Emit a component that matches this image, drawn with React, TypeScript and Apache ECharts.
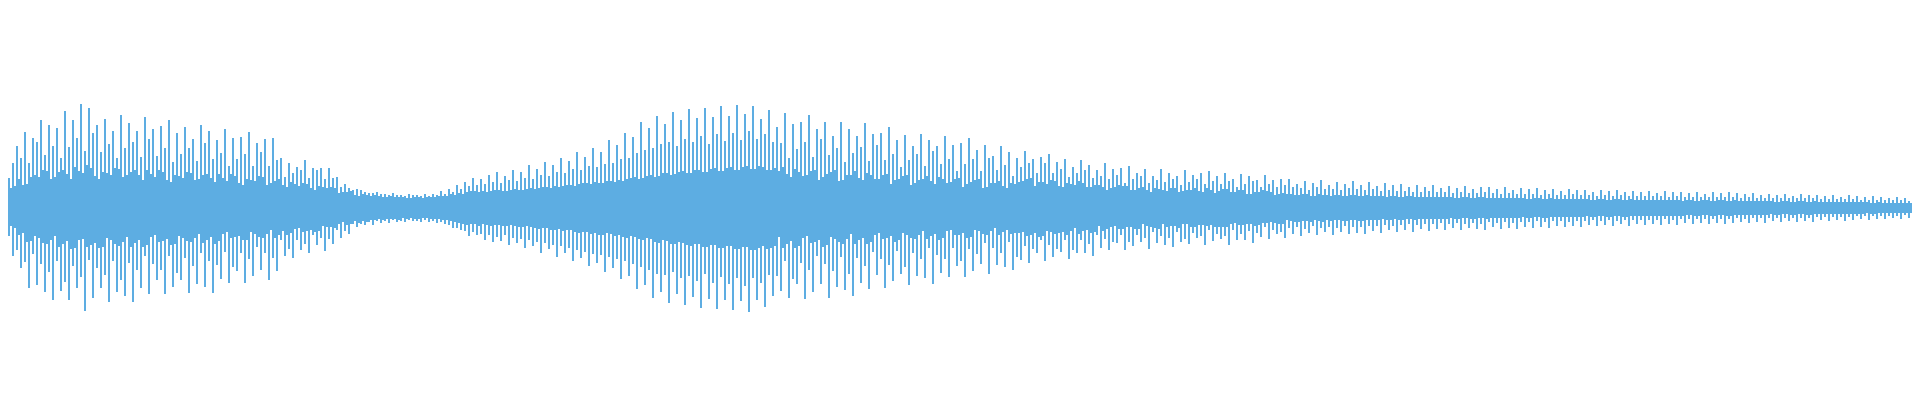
import { useEffect, useRef } from "react";
import * as echarts from "echarts";

// Waveform: per-sample maximum (upper) and minimum (lower), 960 samples
const upper = [
  30,20,45,22, 62,29,50,23, 76,24,45,31, 70,33,66,31, 88,38,53,37, 83,29,62,31, 80,36,50,38, 97,34,61,29, 88,41,70,37, 104,35,57,43,
  100,40,75,32, 83,29,56,36, 89,35,64,33, 77,40,50,39, 93,31,60,33, 85,36,66,38, 77,33,51,28, 91,38,69,34, 79,31,52,38, 82,36,60,28,
  88,26,46,33, 75,32,54,30, 81,36,60,35, 69,28,47,29, 83,33,65,34, 77,30,49,26, 68,34,55,30, 79,27,42,34, 70,32,49,25, 71,23,54,29,
  76,28,42,27, 65,32,56,31, 69,23,42,25, 70,27,48,29, 50,23,31,21, 45,26,35,24, 41,22,38,25, 48,24,30,20, 40,18,38,22, 40,21,29,20,
  40,21,30,20, 31,15,21,16, 24,16,20,17, 18,13,19,12, 18,14,16,13, 15,12,15,13, 16,12,14,11, 14,11,13,12, 15,11,13,11, 13,11,12,10,
  14,10,13,11, 13,11,12,10, 14,11,12,11, 14,11,13,12, 17,12,14,12, 19,14,16,13, 23,15,19,14, 26,16,22,17, 30,17,23,16, 29,17,24,16,
  33,17,26,18, 36,18,25,17, 32,17,28,18, 38,19,27,18, 36,18,30,19, 43,20,29,19, 39,20,33,21, 46,21,32,20, 43,22,36,21, 50,22,35,23,
  47,23,39,22, 56,24,38,25, 51,25,42,24, 60,26,41,25, 56,25,44,27, 68,27,45,26, 63,28,49,27, 75,29,50,30, 71,31,55,29, 86,30,58,32,
  80,33,60,31, 92,32,64,35, 84,35,66,33, 96,34,62,36, 88,37,69,35, 99,35,66,38, 90,38,72,36, 100,36,64,39, 91,40,74,37, 102,37,67,40,
  92,41,75,38, 103,38,68,41, 94,42,77,39, 102,39,69,42, 89,41,74,38, 98,38,66,40, 81,37,65,41, 95,34,50,31, 84,39,59,36, 86,32,66,33,
  93,37,51,38, 79,28,69,31, 86,34,53,36, 72,38,60,27, 86,28,46,33, 79,33,55,37, 72,30,61,28, 85,35,47,33, 74,29,63,29, 75,33,48,34,
  81,24,54,28, 68,29,41,32, 73,33,48,23, 62,25,54,28, 74,29,42,32, 68,27,57,24, 62,31,44,29, 72,25,49,26, 63,29,37,30, 65,21,44,24,
  70,26,49,28, 58,29,37,20, 63,21,50,25, 52,25,38,27, 62,22,43,20, 56,25,32,24, 50,26,41,27, 57,29,45,30, 49,22,35,26, 51,26,45,24,
  54,28,35,27, 46,22,39,21, 49,25,31,24, 41,23,35,27, 48,25,38,21, 43,21,30,23, 38,23,32,21, 45,18,29,20, 39,21,33,23, 40,22,25,22,
  42,18,29,18, 35,20,32,21, 39,18,25,16, 32,20,28,19, 39,18,26,17, 35,20,29,20, 32,16,23,17, 38,18,26,18, 33,20,29,17, 35,16,24,20,
  37,18,27,15, 32,17,24,19, 35,19,27,16, 29,16,21,18, 34,18,24,14, 32,14,27,16, 28,16,21,18, 33,17,24,16, 28,13,21,14, 29,15,23,14,
  29,14,21,13, 24,13,20,14, 27,14,18,12, 25,12,21,14, 28,13,19,13, 23,12,19,13, 26,13,18,12, 24,12,20,13, 27,13,19,12, 23,12,18,13,
  26,12,19,12, 22,12,17,12, 25,11,18,12, 23,12,17,11, 24,11,17,12, 21,12,16,11, 23,11,16,11, 21,11,17,11, 23,11,16,11, 20,11,16,11,
  22,11,15,10, 20,10,16,11, 22,11,15,10, 19,10,15,11, 21,11,16,10, 21,10,15,10, 19,10,14,10, 21,10,15,10, 18,10,14,10, 20,10,14,9,
  19,9,14,10, 20,10,13,9, 18,9,14,10, 19,9,13,9, 17,9,13,9, 19,9,14,9, 18,9,13,9, 18,9,13,8, 16,8,12,9, 18,9,13,8,
  17,8,12,9, 18,9,13,8, 16,8,12,9, 17,8,12,8, 16,8,12,8, 17,8,12,8, 15,8,12,8, 17,8,11,8, 16,8,12,8, 16,7,11,8,
  15,8,11,7, 16,7,11,8, 14,8,11,7, 16,7,11,8, 15,8,11,7, 16,7,11,8, 15,7,10,7, 14,7,11,7, 15,7,10,7, 13,7,10,7,
  14,7,10,6, 13,6,10,7, 14,7,10,6, 12,6,10,7, 14,7,10,6, 13,6,10,7, 13,6,9,6, 12,6,9,6, 13,6,9,6, 11,6,9,6,
  13,6,9,6, 12,6,8,6, 11,6,8,5, 12,5,8,6, 11,5,8,5, 10,5,8,5, 11,5,8,5, 10,5,7,5, 10,5,7,5, 9,5,7,5,
];

const lower = [
  -28,-18,-48,-20, -42,-27,-60,-25, -54,-34,-80,-33, -46,-28,-77,-30, -56,-35,-84,-36, -64,-32,-92,-28, -53,-39,-83,-36, -74,-33,-92,-41, -58,-40,-80,-32, -69,-31,-103,-39,
  -52,-37,-90,-35, -60,-40,-80,-39, -67,-30,-94,-32, -53,-36,-84,-38, -72,-34,-88,-29, -55,-39,-94,-35, -62,-32,-80,-39, -48,-37,-86,-29, -56,-27,-72,-34, -62,-33,-86,-31,
  -48,-37,-79,-36, -65,-28,-72,-30, -50,-33,-85,-34, -58,-30,-76,-26, -45,-35,-79,-32, -53,-29,-85,-36, -57,-33,-71,-26, -44,-24,-75,-30, -59,-29,-63,-28, -45,-32,-75,-32,
  -51,-24,-68,-26, -39,-29,-62,-30, -45,-26,-72,-22, -50,-30,-63,-27, -32,-23,-48,-27, -41,-25,-50,-21, -32,-20,-42,-24, -36,-23,-45,-22, -27,-24,-37,-23, -30,-18,-43,-19,
  -31,-19,-36,-20, -22,-16,-30,-14, -23,-17,-26,-16, -16,-13,-19,-15, -16,-13,-17,-14, -14,-12,-17,-12, -13,-11,-15,-12, -13,-11,-15,-11, -12,-11,-14,-12, -13,-10,-14,-11,
  -12,-10,-13,-11, -13,-11,-14,-10, -12,-10,-14,-11, -13,-11,-15,-11, -14,-12,-16,-12, -17,-13,-20,-14, -20,-15,-22,-16, -23,-17,-28,-16, -24,-16,-27,-18, -26,-16,-32,-17,
  -27,-18,-34,-17, -29,-17,-33,-18, -27,-18,-37,-17, -30,-18,-35,-19, -31,-19,-40,-18, -32,-19,-38,-20, -34,-21,-45,-20, -35,-20,-41,-22, -37,-22,-49,-21, -38,-23,-45,-22,
  -40,-22,-53,-24, -42,-25,-50,-24, -44,-24,-58,-26, -46,-25,-55,-27, -47,-27,-64,-25, -49,-26,-60,-28, -51,-27,-71,-29, -53,-30,-68,-28, -56,-29,-81,-31, -59,-32,-77,-30,
  -62,-31,-90,-34, -66,-35,-84,-32, -67,-33,-95,-36, -64,-36,-86,-34, -70,-35,-97,-37, -68,-38,-89,-36, -73,-36,-100,-39, -66,-39,-91,-37, -75,-37,-101,-40, -69,-40,-92,-38,
  -76,-38,-102,-41, -70,-41,-93,-39, -78,-39,-104,-42, -70,-42,-92,-40, -75,-38,-99,-41, -67,-40,-88,-38, -68,-29,-83,-40, -53,-36,-90,-33, -71,-40,-76,-38, -55,-30,-91,-28,
  -62,-35,-84,-34, -48,-32,-76,-39, -56,-37,-90,-29, -63,-31,-79,-34, -49,-36,-82,-31, -66,-26,-88,-36, -50,-32,-75,-30, -58,-36,-81,-34, -44,-27,-67,-25, -51,-31,-80,-30,
  -57,-28,-73,-34, -43,-32,-66,-25, -59,-27,-77,-30, -45,-31,-68,-27, -51,-23,-70,-31, -40,-28,-76,-26, -47,-32,-65,-30, -51,-23,-69,-22, -40,-27,-58,-27, -53,-25,-69,-30,
  -41,-29,-63,-22, -46,-23,-56,-26, -35,-27,-66,-23, -40,-20,-57,-27, -45,-24,-59,-22, -34,-26,-62,-25, -49,-25,-52,-24, -38,-28,-55,-27, -41,-25,-45,-29, -32,-28,-53,-23,
  -37,-24,-49,-26, -41,-25,-44,-24, -32,-27,-51,-23, -42,-20,-45,-26, -32,-23,-45,-22, -36,-25,-48,-24, -27,-18,-40,-23, -31,-21,-42,-19, -34,-18,-35,-21, -27,-21,-42,-19,
  -34,-19,-38,-21, -27,-21,-34,-16, -30,-18,-41,-19, -24,-20,-35,-21, -28,-16,-37,-19, -30,-18,-39,-18, -24,-20,-34,-16, -31,-16,-36,-19, -25,-19,-30,-17, -28,-17,-37,-18,
  -22,-17,-33,-19, -26,-19,-31,-19, -28,-19,-37,-16, -22,-15,-32,-17, -26,-17,-32,-16, -23,-16,-35,-18, -25,-17,-29,-15, -19,-15,-31,-14, -22,-15,-26,-16, -24,-16,-30,-12,
  -20,-13,-26,-14, -19,-14,-28,-13, -21,-13,-25,-14, -18,-12,-27,-13, -20,-14,-24,-12, -19,-13,-27,-12, -20,-12,-24,-13, -18,-13,-26,-12, -19,-12,-25,-13, -19,-13,-26,-12,
  -18,-12,-23,-12, -18,-12,-25,-11, -17,-12,-22,-12, -18,-11,-24,-12, -17,-12,-22,-11, -16,-11,-24,-12, -17,-11,-21,-11, -16,-11,-23,-11, -16,-11,-21,-11, -15,-11,-22,-11,
  -16,-10,-20,-11, -15,-11,-22,-10, -16,-10,-20,-11, -15,-11,-21,-10, -16,-10,-22,-11, -14,-10,-19,-10, -15,-10,-21,-10, -14,-10,-20,-10, -15,-10,-21,-10, -14,-9,-19,-10,
  -14,-10,-20,-9, -13,-9,-19,-10, -14,-10,-20,-9, -13,-9,-18,-9, -13,-9,-19,-9, -14,-9,-18,-9, -13,-9,-19,-9, -13,-8,-17,-9, -12,-9,-18,-8, -13,-8,-17,-9,
  -12,-9,-18,-8, -13,-8,-16,-9, -12,-9,-18,-8, -12,-8,-16,-8, -12,-8,-17,-8, -12,-8,-16,-8, -12,-8,-17,-8, -11,-8,-16,-8, -12,-8,-17,-8, -11,-8,-15,-7,
  -11,-7,-16,-8, -11,-8,-15,-7, -11,-7,-16,-8, -11,-8,-15,-7, -11,-7,-16,-8, -11,-8,-15,-7, -10,-7,-14,-7, -11,-7,-15,-7, -10,-7,-14,-7, -10,-7,-15,-7,
  -10,-6,-13,-7, -10,-7,-14,-6, -10,-6,-13,-7, -10,-7,-14,-6, -10,-6,-13,-7, -10,-7,-14,-6, -9,-6,-12,-6, -9,-6,-13,-6, -9,-6,-12,-6, -9,-6,-13,-6,
  -9,-6,-12,-6, -8,-6,-11,-6, -8,-5,-12,-6, -8,-6,-11,-5, -8,-5,-11,-5, -8,-5,-10,-5, -8,-5,-11,-5, -7,-5,-10,-5, -7,-5,-10,-5, -7,-5,-9,-5,
];

const sampleIndex = upper.map((_, i) => String(i));

const WAVE_COLOR = "#5dade2";

export default function App() {
  const ref = useRef<HTMLDivElement>(null);

  useEffect(() => {
    if (!ref.current) return;
    const chart = echarts.init(ref.current, null, { renderer: "svg" });
    chart.setOption({
      animation: false,
      backgroundColor: "#ffffff",
      grid: { left: 0, right: 0, top: 0, bottom: 0 },
      xAxis: { type: "category", data: sampleIndex, show: false },
      yAxis: { type: "value", min: -200, max: 200, show: false },
      tooltip: { show: false },
      series: [
        {
          name: "max",
          type: "bar",
          stack: "wave",
          data: upper,
          barCategoryGap: "0%",
          itemStyle: { color: WAVE_COLOR },
          emphasis: { disabled: true },
        },
        {
          name: "min",
          type: "bar",
          stack: "wave",
          data: lower,
          barCategoryGap: "0%",
          itemStyle: { color: WAVE_COLOR },
          emphasis: { disabled: true },
        },
      ],
    });
    return () => chart.dispose();
  }, []);

  return (
    <div
      ref={ref}
      style={{ position: "fixed", left: 0, top: 0, width: 1920, height: 400 }}
    />
  );
}
